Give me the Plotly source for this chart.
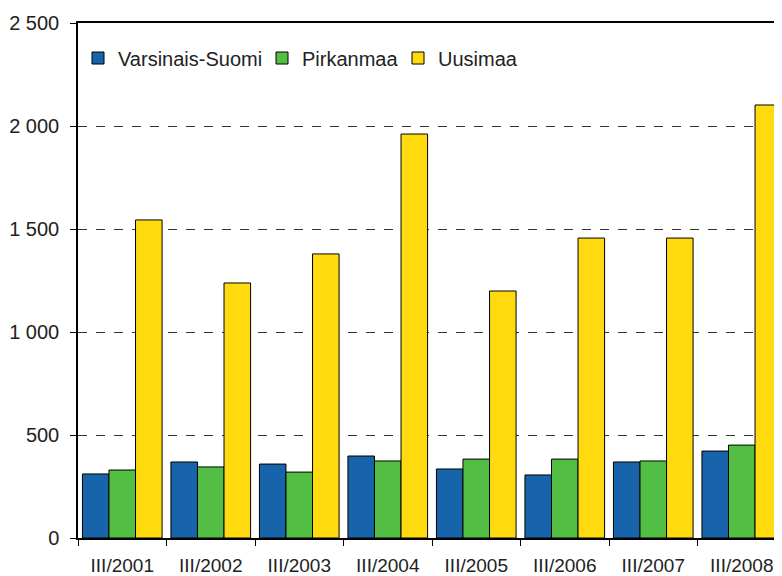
import plotly.graph_objects as go

categories = ["III/2001", "III/2002", "III/2003", "III/2004", "III/2005", "III/2006", "III/2007", "III/2008"]
varsinais_suomi = [311, 369, 359, 398, 335, 306, 369, 422]
pirkanmaa = [330, 345, 320, 374, 383, 383, 374, 451]
uusimaa = [1544, 1238, 1379, 1961, 1199, 1456, 1456, 2102]
y_ticks = [0, 500, 1000, 1500, 2000, 2500]

series = [
    ("Varsinais-Suomi", varsinais_suomi, "#1764AB", 139),
    ("Pirkanmaa", pirkanmaa, "#52BF44", 91),
    ("Uusimaa", uusimaa, "#FFDA0F", 80),
]

fig = go.Figure()
for name, vals, color, lw in series:
    fig.add_trace(go.Bar(
        x=categories, y=vals, name=name, legendwidth=lw,
        marker=dict(color=color, line=dict(color="black", width=1)),
    ))

fig.update_layout(
    width=782, height=576,
    margin=dict(l=70, r=0, t=15, b=46, autoexpand=False),
    barmode="group", bargap=0.1, bargroupgap=0,
    plot_bgcolor="white", paper_bgcolor="white",
    separators=", ",
    font=dict(family="Liberation Sans, Arial, sans-serif", size=20, color="#222"),
    legend=dict(
        orientation="h", x=0.0, y=0.932, xanchor="left", yanchor="middle",
        bgcolor="rgba(0,0,0,0)", font=dict(size=20), itemwidth=30,
        traceorder="normal",
    ),
    xaxis=dict(
        range=[-0.5, 7.545], showline=True, linecolor="black", linewidth=1.5,
        mirror=True, ticks="outside", tickson="boundaries", ticklen=6,
        tickcolor="black", showgrid=False, tickfont=dict(size=19),
        ticklabelstandoff=9,
    ),
    yaxis=dict(
        range=[0, 2500], tickvals=y_ticks, tickformat=",d",
        showline=True, linecolor="black", linewidth=1.5,
        ticks="outside", ticklen=6, tickcolor="black",
        showgrid=True, gridcolor="#333", griddash="dash", gridwidth=1,
        zeroline=False, tickfont=dict(size=20), ticklabelstandoff=7,
    ),
)

fig.write_html("out.html")
